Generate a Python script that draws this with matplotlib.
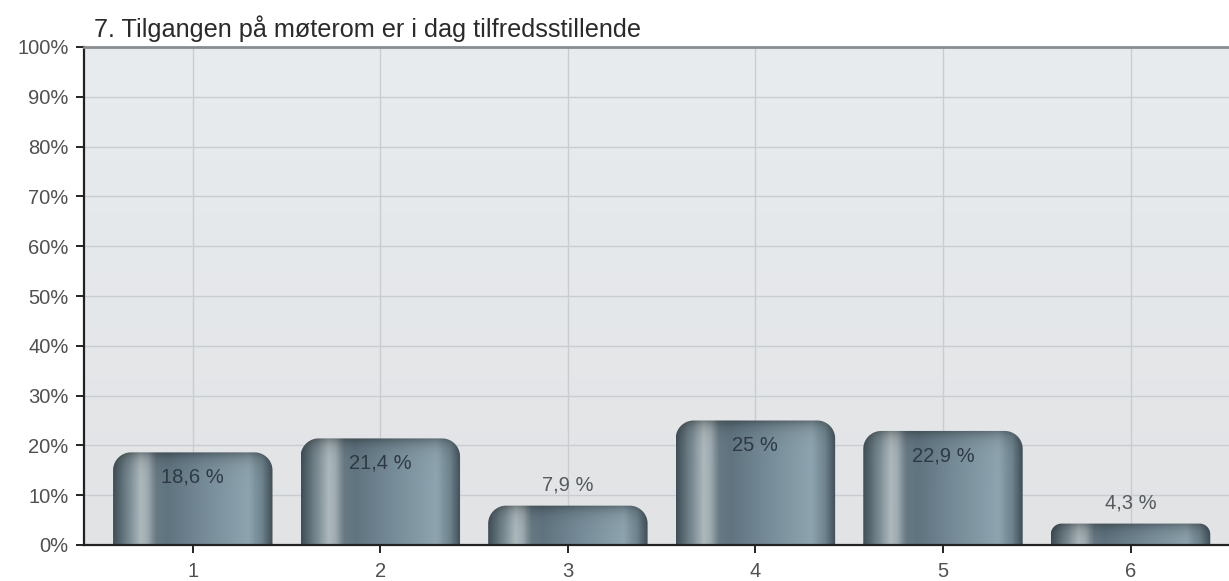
import numpy as np
import matplotlib
matplotlib.use("Agg")
import matplotlib.pyplot as plt
from matplotlib.path import Path
from matplotlib.patches import PathPatch
from matplotlib.colors import LinearSegmentedColormap, to_rgb

plt.rcParams['font.family'] = ['Liberation Sans', 'DejaVu Sans']

title = "7. Tilgangen på møterom er i dag tilfredsstillende"
categories = ["1", "2", "3", "4", "5", "6"]
values = [18.6, 21.4, 7.9, 25.0, 22.9, 4.3]
value_labels = ["18,6 %", "21,4 %", "7,9 %", "25 %", "22,9 %", "4,3 %"]
yticks = [0, 10, 20, 30, 40, 50, 60, 70, 80, 90, 100]

W, H = 1229, 581
fig = plt.figure(figsize=(W / 100, H / 100), dpi=100)
fig.patch.set_facecolor("white")
ax = fig.add_axes([84 / W, 36 / H, 1 - 84 / W, (545 - 47) / H])

XMIN, XMAX = 0.42, 6.525
x = np.arange(1, len(categories) + 1)
ax.set_xlim(XMIN, XMAX)
ax.set_ylim(0, 100)

# plot-area background: bluish at the top, neutral grey lower down
g = np.linspace(0, 1, 256)[:, None, None]
top_c = np.array(to_rgb("#e8ecef"))
bot_c = np.array(to_rgb("#e2e3e5"))
bg_img = top_c * (1 - g) + bot_c * g
ax.imshow(bg_img, extent=(XMIN, XMAX, 0, 100), aspect="auto", zorder=0,
          interpolation="bilinear")

# grid
for yv in yticks[1:]:
    ax.axhline(yv, color="#c9cdd1", lw=1.0, zorder=1)
for xv in x:
    ax.axvline(xv, color="#c9cdd1", lw=1.0, zorder=1)

# horizontal shading across a bar (metallic cylinder look)
stops = [
    (0.00, "#3f4e57"),
    (0.04, "#58686f"),
    (0.10, "#7b8c94"),
    (0.17, "#adb9bd"),
    (0.21, "#a0adb2"),
    (0.27, "#677983"),
    (0.34, "#607480"),
    (0.58, "#768c98"),
    (0.85, "#8ea4af"),
    (0.94, "#6c818b"),
    (1.00, "#3f4e57"),
]
hcmap = LinearSegmentedColormap.from_list("barh", stops)

bar_w = 0.85
px_x = (ax.get_position().width * W) / (XMAX - XMIN)   # pixels per x unit
px_y = (ax.get_position().height * H) / 100.0          # pixels per %


def rounded_top_path(x0, x1, h, rx, ry, n=24):
    t = np.linspace(0, np.pi / 2, n)
    pts = [(x0, 0.0)]
    cx, cy = x0 + rx, h - ry
    pts += list(zip(cx - rx * np.cos(t), cy + ry * np.sin(t)))
    cx = x1 - rx
    pts += list(zip(cx + rx * np.sin(t), cy + ry * np.cos(t)))
    pts += [(x1, 0.0), (x0, 0.0)]
    codes = [Path.MOVETO] + [Path.LINETO] * (len(pts) - 2) + [Path.CLOSEPOLY]
    return Path(pts, codes)


nx, ny = 240, 240
hprof = hcmap(np.linspace(0, 1, nx))[:, :3]
for xi, v in zip(x, values):
    x0, x1 = xi - bar_w / 2, xi + bar_w / 2
    ry = min(18 / px_y, v * 0.5)
    rx = min(18, ry * px_y) / px_x
    path = rounded_top_path(x0, x1, v, rx, ry)
    patch = PathPatch(path, facecolor="none", edgecolor="none", zorder=3)
    ax.add_patch(patch)
    # vertical modulation: darker cap fading into the body
    hp = v * px_y
    dtop = np.linspace(0, hp, ny)                 # distance from top in px
    f = 1.0 - 0.34 * np.exp(-dtop / 7.0)
    img = np.clip(hprof[None, :, :] * f[:, None, None], 0, 1)
    im = ax.imshow(img, extent=(x0, x1, 0, v), aspect="auto", zorder=3,
                   interpolation="bilinear")
    im.set_clip_path(patch)

# value labels: inside tall bars, above short ones
for xi, v, lab in zip(x, values, value_labels):
    if v > 12:
        ly, col = v - 5, "#2e3a43"
    else:
        ly, col = v + 4.2, "#555a5e"
    ax.text(xi, ly, lab, ha="center", va="center", fontsize=14.5,
            color=col, zorder=5)

ax.set_xticks(x)
ax.set_xticklabels(categories)
ax.set_yticks(yticks)
ax.set_yticklabels([f"{t}%" for t in yticks])
ax.tick_params(axis="both", labelsize=14.5, colors="#222222", labelcolor="#505050",
               length=6, width=1.4, direction="out")
ax.tick_params(axis="x", pad=6)
ax.tick_params(axis="y", pad=5)

for s in ("left", "bottom"):
    ax.spines[s].set_color("#222222")
    ax.spines[s].set_linewidth(1.6)
ax.spines["top"].set_color("#8a8d90")
ax.spines["top"].set_linewidth(2)
ax.spines["right"].set_visible(False)
for s in ax.spines.values():
    s.set_zorder(6)

fig.text(94 / W, 1 - 29 / H, title, fontsize=18.2, color="#2a2a2a",
         ha="left", va="center")

fig.savefig("out.png", dpi=100, facecolor="white")
